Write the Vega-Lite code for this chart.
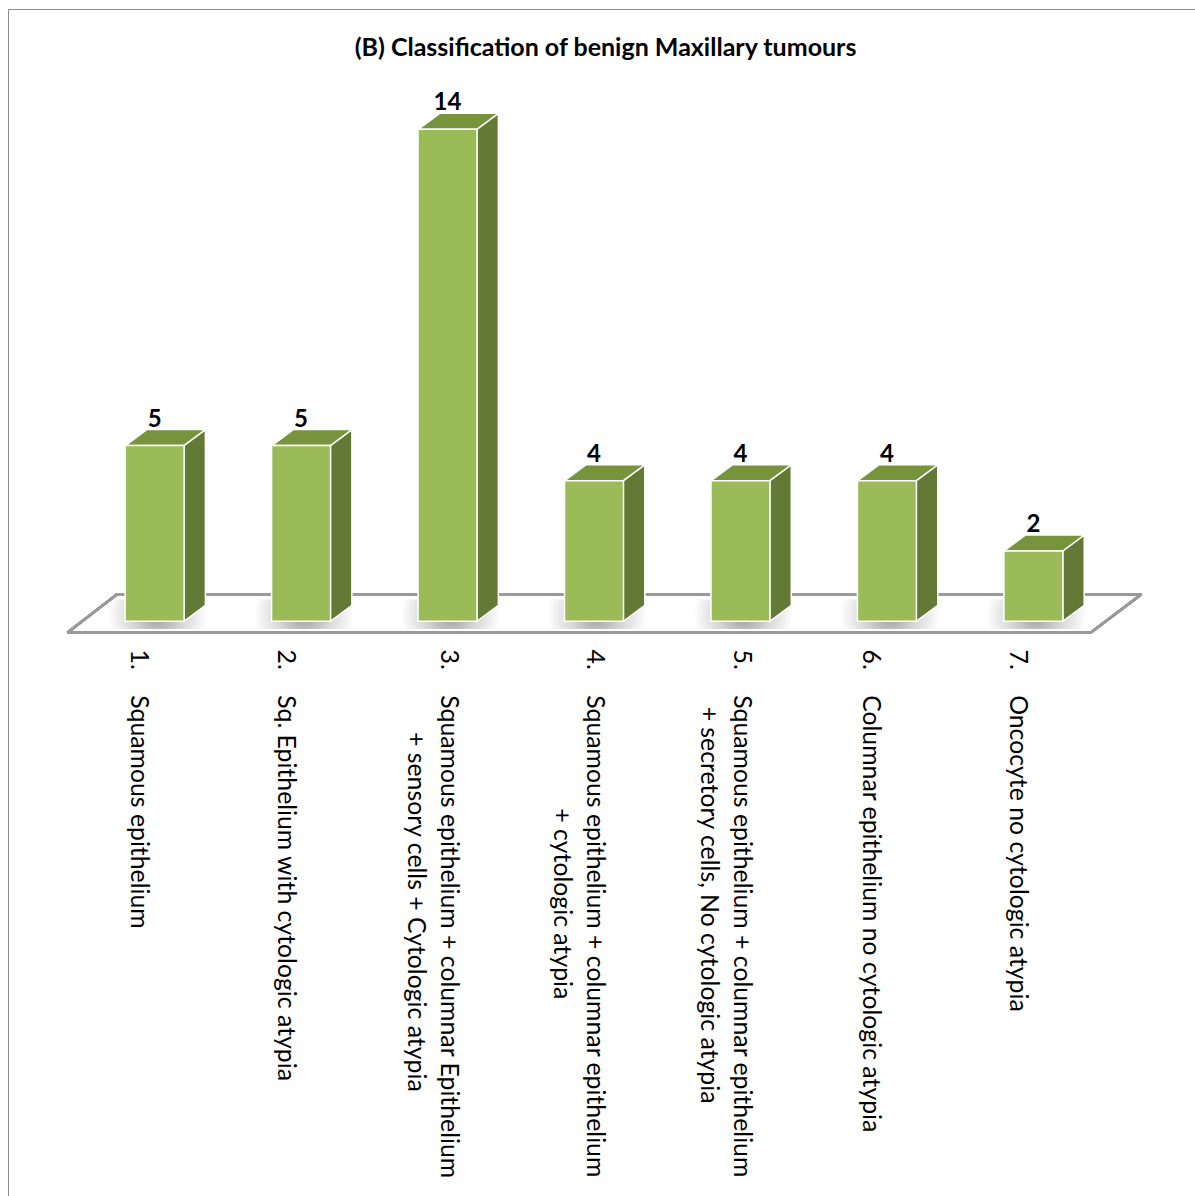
{
  "$schema": "https://vega.github.io/schema/vega-lite/v6.json",
  "width": 1195,
  "height": 1196,
  "autosize": {"type": "none"},
  "padding": {"left": 8, "top": 9, "right": 0, "bottom": 0},
  "background": "white",
  "config": {"view": {"stroke": "#8c8c8c", "strokeWidth": 1}, "font": "Lato"},
  "title": {"text": "(B) Classification of benign Maxillary tumours", "font": "Lato", "fontSize": 25, "fontWeight": "bold", "color": "black", "anchor": "middle", "offset": -52},
  "data": {"values": [
    {"i": 1, "category": "Squamous epithelium", "n": 5},
    {"i": 2, "category": "Sq. Epithelium with cytologic atypia", "n": 5},
    {"i": 3, "category": "Squamous epithelium + columnar Epithelium + sensory cells + Cytologic atypia", "n": 14},
    {"i": 4, "category": "Squamous epithelium + columnar epithelium + cytologic atypia", "n": 4},
    {"i": 5, "category": "Squamous epithelium + columnar epithelium + secretory cells, No cytologic atypia", "n": 4},
    {"i": 6, "category": "Columnar epithelium no cytologic atypia", "n": 4},
    {"i": 7, "category": "Oncocyte no cytologic atypia", "n": 2}
  ]},
  "layer": [
    {"mark": {"type": "bar", "width": 100, "xOffset": 3,
              "color": {"gradient": "radial", "x1": 0.5, "y1": 0.5, "r1": 0, "x2": 0.5, "y2": 0.5, "r2": 0.5,
                        "stops": [{"offset": 0, "color": "#9a9a9a"}, {"offset": 0.5, "color": "#d4d4d4"}, {"offset": 1, "color": "#ffffff"}]}},
     "encoding": {
       "x": {"field": "i", "type": "quantitative",
             "scale": {"domain": [0.03318, 8.1239], "nice": false, "zero": false},
             "axis": {"values": [1, 2, 3, 4, 5, 6, 7], "title": null, "domain": false, "ticks": false, "grid": false,
                      "labelExpr": "[['1.\u00a0\u00a0\u00a0\u00a0Squamous epithelium'], ['2.\u00a0\u00a0\u00a0\u00a0Sq. Epithelium with cytologic atypia'], ['3.\u00a0\u00a0\u00a0\u00a0Squamous epithelium + columnar Epithelium', '\u200b\u00a0\u00a0\u00a0\u00a0\u00a0\u00a0\u00a0\u00a0\u00a0\u00a0\u00a0\u00a0\u00a0+ sensory cells + Cytologic atypia'], ['4.\u00a0\u00a0\u00a0\u00a0Squamous epithelium + columnar epithelium', '\u200b\u00a0\u00a0\u00a0\u00a0\u00a0\u00a0\u00a0\u00a0\u00a0\u00a0\u00a0\u00a0\u00a0\u00a0\u00a0\u00a0\u00a0\u00a0\u00a0\u00a0\u00a0\u00a0\u00a0\u00a0\u00a0+ cytologic atypia'], ['5.\u00a0\u00a0\u00a0\u00a0Squamous epithelium + columnar epithelium', '\u200b\u00a0\u00a0\u00a0\u00a0\u00a0\u00a0\u00a0\u00a0\u00a0+ secretory cells, No cytologic atypia'], ['6.\u00a0\u00a0\u00a0\u00a0Columnar epithelium no cytologic atypia'], ['7.\u00a0\u00a0\u00a0\u00a0Oncocyte no cytologic atypia']][datum.value - 1]",
                      "labelAngle": 90, "labelAlign": "left", "labelBaseline": "middle", "labelPadding": 17,
                      "labelOffset": {"condition": {"test": "datum.value >= 3 && datum.value <= 5", "value": 0}, "value": -17},
                      "labelFont": "Lato", "labelFontSize": 24.8, "labelColor": "black", "labelLineHeight": 33,
                      "labelOverlap": false, "labelLimit": 2000, "labelFlush": false, "labelBound": false, "offset": -573}},
       "y": {"datum": 0.62, "type": "quantitative", "scale": {"domain": [-16.611, 17.424], "nice": false, "zero": false}, "axis": null},
       "y2": {"datum": -0.22}
     }},
    {"mark": {"type": "rule", "color": "#9a9a9a", "strokeWidth": 2.5},
     "encoding": {"x": {"datum": 0.4055, "type": "quantitative"}, "x2": {"datum": 7.3928},
                  "y": {"datum": -0.3187, "type": "quantitative"}, "y2": {"datum": -0.3187}}},
    {"mark": {"type": "rule", "color": "#9a9a9a", "strokeWidth": 2.5},
     "encoding": {"x": {"datum": 0.7441, "type": "quantitative"}, "x2": {"datum": 7.738},
                  "y": {"datum": 0.7684, "type": "quantitative"}, "y2": {"datum": 0.7684}}},
    {"mark": {"type": "rule", "color": "#9a9a9a", "strokeWidth": 2.5},
     "encoding": {"x": {"datum": 0.4055, "type": "quantitative"}, "x2": {"datum": 0.7441},
                  "y": {"datum": -0.3187, "type": "quantitative"}, "y2": {"datum": 0.7684}}},
    {"mark": {"type": "rule", "color": "#9a9a9a", "strokeWidth": 2.5},
     "encoding": {"x": {"datum": 7.3928, "type": "quantitative"}, "x2": {"datum": 7.738},
                  "y": {"datum": -0.3187, "type": "quantitative"}, "y2": {"datum": 0.7684}}},
    {"transform": [
      {"calculate": "[0, 1]", "as": "k"},
      {"flatten": ["k"]},
      {"calculate": "datum.i + 0.2 + 0.147 * datum.k", "as": "sx"},
      {"calculate": "datum.n + 0.455 * datum.k", "as": "st"},
      {"calculate": "0.455 * datum.k", "as": "sb"}
    ],
     "mark": {"type": "area", "color": "#627A35", "stroke": "white", "strokeWidth": 1.5},
     "encoding": {"x": {"field": "sx", "type": "quantitative"}, "y": {"field": "st", "type": "quantitative"}, "y2": {"field": "sb"}, "detail": {"field": "i"}}},
    {"transform": [
      {"calculate": "[0, 1, 2, 3]", "as": "k"},
      {"flatten": ["k"]},
      {"calculate": "datum.i - 0.2 + [0, 0.147, 0.4, 0.547][datum.k]", "as": "tx"},
      {"calculate": "datum.n + [0, 0.455, 0.455, 0.455][datum.k]", "as": "tu"},
      {"calculate": "datum.n + [0, 0, 0, 0.455][datum.k]", "as": "tl"}
    ],
     "mark": {"type": "area", "color": "#77933C", "stroke": "white", "strokeWidth": 1.5},
     "encoding": {"x": {"field": "tx", "type": "quantitative"}, "y": {"field": "tu", "type": "quantitative"}, "y2": {"field": "tl"}, "detail": {"field": "i"}}},
    {"mark": {"type": "bar", "width": 59, "color": "#9BBB59", "stroke": "white", "strokeWidth": 1.5},
     "encoding": {"x": {"field": "i", "type": "quantitative"}, "y": {"field": "n", "type": "quantitative"}, "y2": {"datum": 0}}},
    {"mark": {"type": "text", "font": "Lato", "fontSize": 24, "fontWeight": "bold", "baseline": "alphabetic", "dy": -19, "color": "black"},
     "encoding": {"x": {"field": "i", "type": "quantitative"}, "y": {"field": "n", "type": "quantitative"}, "text": {"field": "n"}}}
  ]
}
